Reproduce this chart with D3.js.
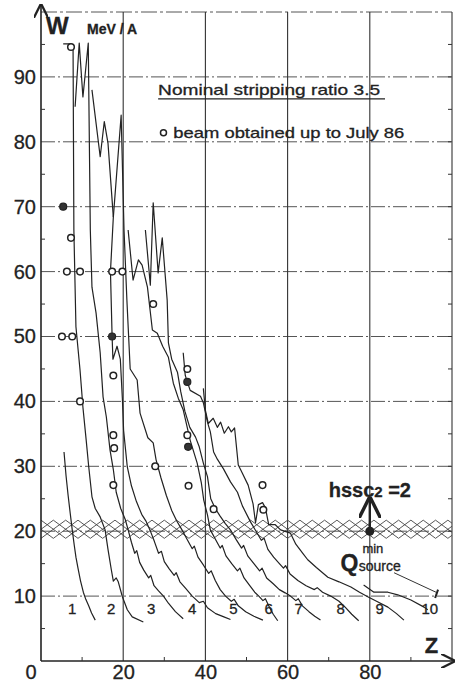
<!DOCTYPE html>
<html>
<head>
<meta charset="utf-8">
<script src="https://d3js.org/d3.v7.min.js"></script>
<style>
  body { margin: 0; background: white; }
  svg text { font-family: 'Liberation Sans', Arial, sans-serif; fill: #222; stroke: #222; stroke-width: 0.3; }
</style>
</head>
<body>
<svg id="chart" width="455" height="683"></svg>
<script>
// Z (ion atomic number) vs W (MeV/A) -- curves for stripping charge states
var curve1 = [[5.6,32.2],[6.1,28.5],[6.6,25.5],[7.1,22.8],[7.6,20.2],[8.1,17.8],[8.5,16.0],[9.0,14.3],[9.6,12.4],[10.3,10.6],[10.9,9.5],[11.6,8.5],[12.3,7.4],[13.2,6.3]];
var curve2 = [[5.4,95.1],[7.3,95.1],[7.8,94.6],[8.0,66.4],[8.5,51.5],[9.5,44.8],[10.2,39.1],[11.0,34.0],[11.6,30],[12.4,25.3],[13.2,23.5],[14.4,22.2],[15.6,20.2],[16.3,17.2],[17.1,14.1],[17.6,12.3],[18.3,12.8],[18.8,12.2],[19.8,9.9],[21.0,7.9],[22.2,6.8],[24.9,6.0]];
var curve3 = [[8.3,85.4],[9.3,95.2],[10.2,86.9],[11.5,95.2],[12.0,66.4],[12.4,57.6],[13.4,53.6],[14.4,47.5],[15.1,40.7],[15.9,37.6],[16.8,32.5],[17.6,29.5],[18.3,26],[19.4,23.5],[20.5,21.8],[21.2,20.2],[22.0,18.3],[22.8,16.6],[23.3,17.0],[24.0,15.2],[25.0,14.0],[26.2,12.8],[26.7,13.2],[27.5,11.6],[28.6,10.8],[29.8,10.0],[31.0,8.9],[32.7,7.6],[34.6,6.5]];
var curve4 = [[12.4,88],[14.4,77.7],[15.4,83.1],[16.3,79.8],[17.6,68.4],[16.9,60],[17.3,50],[17.5,46.5],[18.5,48.5],[19.3,46.5],[19.8,40.4],[20.1,35.5],[21.0,29.9],[22.0,27.0],[23.2,24.6],[24.5,22.6],[25.5,21.6],[26.5,20.2],[27.6,18.4],[28.6,16.6],[29.3,16.9],[30.0,15.3],[31.2,14.2],[32.4,13.2],[32.9,13.6],[33.8,12.2],[35.2,11.2],[36.8,10.0],[38.5,9.0],[39.5,9.2],[40.5,8.2],[42.5,7.3],[44.5,6.8],[46.1,6.4]];
var curve5 = [[17.6,68.4],[19.5,84.1],[20.2,66.4],[20.9,55.6],[21.7,45],[23.4,43.3],[24.1,38.2],[26.0,34.4],[27.3,33.6],[28.0,31],[29.2,28.2],[30.5,25.5],[31.8,23.2],[33.0,21.6],[34.3,20.2],[35.5,18.8],[36.8,17.3],[37.3,17.7],[38.2,16.0],[39.5,14.8],[40.8,13.5],[41.4,13.9],[42.4,12.4],[43.6,11.0],[44.9,10.0],[46.3,9.2],[47.0,9.5],[48.0,8.5],[49.8,7.6],[51.8,6.9],[54.0,6.3]];
var curve6 = [[21.2,66.4],[22.4,58.7],[23.7,61.8],[24.6,61.0],[25.9,57.6],[27.1,51],[28.3,50.5],[29.6,48.5],[31.0,46.8],[32.2,42.8],[33.4,40.5],[34.6,38.7],[36.3,34],[38.0,30.5],[39.0,27.5],[39.6,24.8],[40.5,22.5],[41.2,20.2],[42.4,18.8],[43.6,17.4],[44.1,17.8],[45.0,16.2],[46.4,15.0],[47.8,13.9],[48.4,14.3],[49.4,12.8],[50.8,11.6],[52.0,10.6],[53.0,10.0],[54.0,9.3],[54.6,9.6],[55.4,8.5],[56.5,7.2],[57.6,6.2]];
var curve7 = [[25.4,66.4],[26.6,57.9],[27.3,70.6],[28.5,59.8],[29.5,65.2],[30.7,55.6],[31.0,49],[31.8,46.5],[33.2,44.5],[34.0,41.5],[35.0,38.5],[36.2,36],[37.6,34.5],[38.5,33],[39.5,30.5],[40.5,28.4],[41.3,25],[42.4,23.5],[43.5,22.4],[44.8,21.2],[46.1,20.2],[47.5,18.7],[48.8,17.4],[49.3,17.8],[50.3,16.2],[51.8,15.0],[53.2,13.9],[53.8,14.3],[54.9,12.8],[56.5,11.9],[58.0,11.0],[59.4,10.5],[60.7,10.0],[62.0,9.3],[62.6,9.6],[63.6,8.5],[65.2,7.6],[66.6,6.9],[68.0,6.3]];
var curve8 = [[34.6,47.5],[35.1,44],[35.6,43],[36.3,41.7],[38.8,40.8],[39.5,39.8],[40.5,36.8],[41.2,35.3],[42.0,32.2],[42.9,31.1],[44.4,29.6],[46.1,27.6],[47.8,26],[49.0,23.9],[51.0,21.4],[52.5,19.8],[53.6,18.6],[54.3,18.9],[55.2,17.2],[56.6,16.0],[58.0,15.0],[59.0,14.3],[59.5,14.7],[60.6,13.4],[62.5,12.4],[64.5,11.6],[66.5,11.0],[67.2,11.3],[68.5,10.6],[70.5,10.0],[72.5,9.2],[74.0,8.3],[75.6,7.2],[77.3,6.2]];
var curve9 = [[39.5,42],[40.0,38.6],[40.7,36.6],[41.9,37.4],[42.9,36],[43.7,36.8],[44.6,35.1],[45.6,36.1],[46.3,35.3],[47.1,35.9],[48.0,30.2],[48.7,29.3],[50.4,27.1],[51.6,24.2],[52.2,21.3],[52.9,24.1],[53.9,24.4],[54.6,23.6],[55.4,21],[57.0,21],[58.3,20.2],[60.7,19.7],[62.0,18.0],[63.7,16.6],[64.9,15.6],[67.0,14.4],[69.8,12.9],[72.5,12.2],[75.4,11.4],[77.5,10.6],[79.5,9.9],[82.0,9.1],[84.4,8.3],[86.5,7.3],[88.3,6.3]];
var curve10 = [[78.5,11.7],[81.0,10.6],[84.4,10.6],[86.8,10.2],[90.0,9.4],[93.2,8.3],[94.1,7.9]];
var curves = [curve1, curve2, curve3, curve4, curve5, curve6, curve7, curve8, curve9, curve10];

var curveNames = ['1','2','3','4','5','6','7','8','9','10'];
var curveLabelZ = [7.6, 17.1, 26.8, 36.8, 46.8, 55.4, 62.7, 72.9, 82.4, 94.6];

// measured beams (open and filled circles)
var openPts = [[7.3,94.6],[7.3,65.2],[6.3,60],[9.5,60],[5.1,50],[7.6,50],[9.5,40],[17.3,60],[19.8,60],[17.6,44],[17.6,34.8],[17.8,32.8],[17.6,27.1],[27.3,55],[27.8,30],[35.6,45],[35.6,34.8],[35.9,27],[42,23.4],[53.9,27.1],[54.1,23.3]];
var filledPts = [[5.4,70],[17.3,50],[35.6,43],[35.8,33]];

var yTicks = [10,20,30,40,50,60,70,80,90];
var xTicks = [20,40,60,80];
var yMinor = [5,15,25,35,45,55,65,75,85,95];
var xMinor = [10,30,50,70,90];

var svg = d3.select('#chart');
var x = d3.scaleLinear().domain([0,100]).range([41,452]);
var y = d3.scaleLinear().domain([0,100]).range([661,12]);

// horizontal dash-dot grid
svg.append('g').selectAll('line').data(yTicks).join('line')
  .attr('x1', x(0)).attr('x2', x(100))
  .attr('y1', d => y(d)).attr('y2', d => y(d))
  .attr('stroke', '#555').attr('stroke-width', 1)
  .attr('stroke-dasharray', '14,3,2,3');
// top border
svg.append('line').attr('x1', x(0)).attr('x2', x(100)).attr('y1', y(100)).attr('y2', y(100))
  .attr('stroke', '#555').attr('stroke-width', 1).attr('stroke-dasharray', '16,3,3,3');
// vertical grid
svg.append('g').selectAll('line').data(xTicks.concat([100])).join('line')
  .attr('x1', d => x(d)).attr('x2', d => x(d))
  .attr('y1', y(0)).attr('y2', y(100))
  .attr('stroke', '#333').attr('stroke-width', 1.1);

// hatched band around W = 20
var bandStep = 3, bandTop = 21.7, bandBot = 18.9;
var bandStarts = d3.range(-3, 100, bandStep);
var band = svg.append('g').attr('stroke', '#444').attr('stroke-width', 0.9);
bandStarts.forEach(function (z0) {
  var z1 = Math.min(z0 + 2 * bandStep, 100), za = Math.max(z0, 0);
  var f = function (z, up) {
    var t = (z - z0) / (2 * bandStep);
    return up ? bandTop + (bandBot - bandTop) * t : bandBot + (bandTop - bandBot) * t;
  };
  band.append('line').attr('x1', x(za)).attr('y1', y(f(za, true))).attr('x2', x(z1)).attr('y2', y(f(z1, true)));
  band.append('line').attr('x1', x(za)).attr('y1', y(f(za, false))).attr('x2', x(z1)).attr('y2', y(f(z1, false)));
});

// axes lines with arrows
svg.append('defs').append('marker').attr('id', 'arr').attr('viewBox', '0 0 10 10')
  .attr('refX', 9).attr('refY', 5).attr('markerWidth', 9).attr('markerHeight', 9)
  .attr('orient', 'auto-start-reverse')
  .append('path').attr('d', 'M0,0 L10,5 L0,10').attr('fill', 'none').attr('stroke', '#222').attr('stroke-width', 1.6);
svg.append('line').attr('x1', x(0)).attr('x2', x(0)).attr('y1', y(0)).attr('y2', 5)
  .attr('stroke', '#222').attr('stroke-width', 1.6).attr('marker-end', 'url(#arr)');
svg.append('line').attr('x1', x(0)).attr('x2', 454).attr('y1', y(0)).attr('y2', y(0))
  .attr('stroke', '#222').attr('stroke-width', 1.6).attr('marker-end', 'url(#arr)');

// minor ticks
svg.append('g').selectAll('line').data(yMinor).join('line')
  .attr('x1', x(0)).attr('x2', x(0) + 4).attr('y1', d => y(d)).attr('y2', d => y(d))
  .attr('stroke', '#333');
svg.append('g').selectAll('line').data(yMinor.concat(yTicks)).join('line')
  .attr('x1', x(100)).attr('x2', x(100) - 4).attr('y1', d => y(d)).attr('y2', d => y(d))
  .attr('stroke', '#333');
svg.append('g').selectAll('line').data(xMinor).join('line')
  .attr('x1', d => x(d)).attr('x2', d => x(d)).attr('y1', y(0)).attr('y2', y(0) - 4)
  .attr('stroke', '#333');

// tick labels
var yAx = svg.append('g').attr('transform', 'translate(' + x(0) + ',0)')
  .call(d3.axisLeft(y).tickValues(yTicks).tickSize(0).tickPadding(5));
yAx.select('.domain').remove();
yAx.selectAll('text').attr('font-size', 20).attr('fill', '#222').attr('stroke', '#222').attr('stroke-width', 0.5);
var xAx = svg.append('g').attr('transform', 'translate(0,' + y(0) + ')')
  .call(d3.axisBottom(x).tickValues(xTicks).tickSize(0).tickPadding(4));
xAx.select('.domain').remove();
xAx.selectAll('text').attr('font-size', 20).attr('fill', '#222').attr('stroke', '#222').attr('stroke-width', 0.5);
svg.append('text').attr('x', x(0) - 10).attr('y', 679).attr('text-anchor', 'middle')
  .attr('font-size', 20).attr('stroke-width', 0.5).text('0');

// curves
var line = d3.line().x(d => x(d[0])).y(d => y(d[1]));
svg.append('g').selectAll('path').data(curves).join('path')
  .attr('d', line).attr('fill', 'none').attr('stroke', '#222')
  .attr('stroke-width', 1.2).attr('stroke-linejoin', 'round');

// curve labels
svg.append('g').selectAll('text').data(curveNames).join('text')
  .attr('x', (d, i) => x(curveLabelZ[i])).attr('y', y(7.2))
  .attr('text-anchor', 'middle').attr('font-size', 15).text(d => d);

// points
svg.append('g').selectAll('circle').data(openPts).join('circle')
  .attr('cx', d => x(d[0])).attr('cy', d => y(d[1])).attr('r', 3.3)
  .attr('fill', 'white').attr('stroke', '#222').attr('stroke-width', 1.5);
svg.append('g').selectAll('circle').data(filledPts).join('circle')
  .attr('cx', d => x(d[0])).attr('cy', d => y(d[1])).attr('r', 3.5)
  .attr('fill', '#333').attr('stroke', '#222').attr('stroke-width', 1.2);

// axis titles
svg.append('text').attr('x', x(1.2)).attr('y', y(96.6)).attr('font-size', 24).attr('font-weight', 'bold').text('W');
svg.append('text').attr('x', x(11.2)).attr('y', y(96.6)).attr('font-size', 14).attr('font-weight', 'bold').text('MeV / A');
svg.append('text').attr('x', x(93.4)).attr('y', y(1.2)).attr('font-size', 22).attr('font-weight', 'bold').text('Z');

// legend block
svg.append('text').attr('x', x(28.5)).attr('y', y(87.2)).attr('font-size', 15)
  .attr('textLength', 222).attr('lengthAdjust', 'spacingAndGlyphs').text('Nominal stripping ratio 3.5');
svg.append('line').attr('x1', x(28.5)).attr('x2', x(83.7)).attr('y1', y(86.6)).attr('y2', y(86.6))
  .attr('stroke', '#222').attr('stroke-width', 1.2);
svg.append('circle').attr('cx', x(29.8)).attr('cy', y(81.4)).attr('r', 3)
  .attr('fill', 'white').attr('stroke', '#222').attr('stroke-width', 1.5);
svg.append('text').attr('x', x(32.2)).attr('y', y(80.6)).attr('font-size', 15)
  .attr('textLength', 231).attr('lengthAdjust', 'spacingAndGlyphs').text('beam obtained up to July 86');

// hssc2 = 2 marker
var hZ = 80;
svg.append('line').attr('x1', x(hZ)).attr('x2', x(hZ)).attr('y1', y(20)).attr('y2', y(25))
  .attr('stroke', '#222').attr('stroke-width', 2.4).attr('marker-end', 'url(#arr)');
svg.append('circle').attr('cx', x(hZ)).attr('cy', y(20)).attr('r', 4.5).attr('fill', '#222');
var h = svg.append('text').attr('x', x(70)).attr('y', y(25.3)).attr('font-size', 20).attr('font-weight', 'bold');
h.append('tspan').text('hssc');
h.append('tspan').attr('font-size', 15).text('2');
h.append('tspan').text(' =2');

// Q source min
svg.append('text').attr('x', x(72.9)).attr('y', y(13.9)).attr('font-size', 23).attr('font-weight', 'bold').text('Q');
svg.append('text').attr('x', x(78.2)).attr('y', y(16.6)).attr('font-size', 13).text('min');
svg.append('text').attr('x', x(77.3)).attr('y', y(13.9)).attr('font-size', 14).text('source');
svg.append('line').attr('x1', x(85.9)).attr('y1', y(13.6)).attr('x2', x(96.1)).attr('y2', y(10.6))
  .attr('stroke', '#333').attr('stroke-width', 1);
svg.append('line').attr('x1', x(96.6)).attr('y1', y(11.0)).attr('x2', x(95.9)).attr('y2', y(9.7))
  .attr('stroke', '#222').attr('stroke-width', 2);
</script>
</body>
</html>
